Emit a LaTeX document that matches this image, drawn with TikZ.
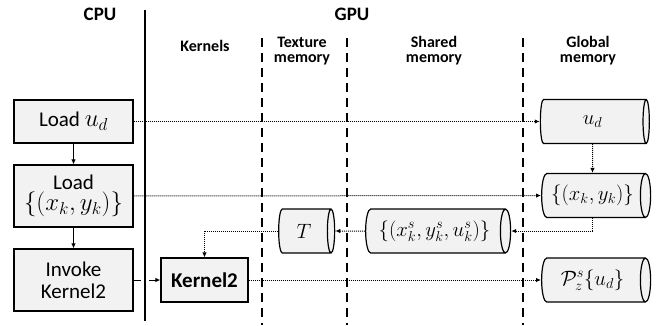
\documentclass[tikz,border=0pt]{standalone}
\usepackage{fontspec}
\setmainfont{Carlito}
\usetikzlibrary{shapes.geometric,arrows.meta,calc}
\definecolor{boxfill}{HTML}{F2F2F2}
\newcommand\mymath[1]{{\fontsize{24}{27}\selectfont$#1$}}
\begin{document}
\begin{tikzpicture}[x=1pt,y=-1pt,
  cpubox/.style={draw=black,line width=1.2pt,fill=boxfill,minimum width=119pt,align=center,inner sep=2pt,font=\fontsize{21}{24}\selectfont},
  kbox/.style={draw=black,line width=1.2pt,fill=boxfill,minimum width=87pt,minimum height=44pt,inner sep=2pt,font=\fontsize{21}{24}\selectfont\bfseries},
  mem/.style={shape=cylinder,draw=black,line width=1.2pt,fill=boxfill,aspect=0.45,inner xsep=0pt,inner ysep=1pt,minimum width=44pt,font=\fontsize{21.5}{25}\selectfont},
  title/.style={font=\fontsize{19}{22}\selectfont\bfseries},
  col/.style={font=\fontsize{16}{18}\selectfont\bfseries,align=center},
  sep/.style={line width=2pt,dash pattern=on 9pt off 6pt},
  dotarr/.style={densely dotted,line width=1pt,-{Latex[length=5pt,width=4.5pt]}},
  solarr/.style={line width=1pt,-{Latex[length=5pt,width=4.5pt]}}]
\useasboundingbox (0,0) rectangle (666,325);
% titles
\node[title] (tcpu) at (100,14) {CPU};
\node[title] (tgpu) at (352,14) {GPU};
\node[col] (tk) at (205,46) {Kernels};
\node[col] (tt) at (302,51) {Texture\\[-3pt]memory};
\node[col] (ts) at (434,51) {Shared\\[-3pt]memory};
\node[col] (tg) at (588,51) {Global\\[-3pt]memory};
% separators
\coordinate (s0t) at (145,10); \coordinate (s0b) at (145,321);
\coordinate (s1t) at (262,38); \coordinate (s1b) at (262,325);
\coordinate (s2t) at (347,38); \coordinate (s2b) at (347,325);
\coordinate (s3t) at (523,38); \coordinate (s3b) at (523,325);
\draw[sep] (s1t) -- (s1b);
\draw[sep] (s2t) -- (s2b);
\draw[sep] (s3t) -- (s3b);
% CPU boxes
\node[cpubox,minimum height=43pt] (b1) at (73.5,121.5) {Load \mymath{u_d}};
\node[cpubox,minimum height=62pt] (b2) at (73.5,196) {Load\\[-3pt]\mymath{\{(x_k,y_k)\}}};
\node[cpubox,minimum height=62pt] (b3) at (73.5,280) {Invoke\\[-2pt]Kernel2};
% kernel
\node[kbox] (k2) at (204.5,280) {Kernel2};
% memories
\node[mem,minimum height=109pt] (ud) at (592.5,121.5) {$u_d$};
\node[mem,minimum height=109pt] (xk) at (592.5,195.5) {$\{(x_k,y_k)\}$};
\node[mem,minimum height=109pt] (pz) at (592.5,280) {$\mathcal{P}^s_z\{u_d\}$};
\node[mem,minimum height=145pt] (sh) at (434.5,231) {$\{(x^s_k,y^s_k,u^s_k)\}$};
\node[mem,minimum height=56pt] (tx) at (304,231) {$T$};
% connectors
\draw[solarr] (b1) -- (b2);
\draw[solarr] (b2) -- (b3);
\draw[solarr] (b3) -- (k2);
\draw[white,line width=8pt] ($(s0t |- k2)+(0,-1)$) -- ($(s0t |- k2)+(0,1)$);
\draw[line width=2pt] (s0t) -- (s0b);
\draw[dotarr] (b1) -- (ud);
\draw[dotarr] (b2) -- (xk);
\draw[dotarr] (ud.south) -- (xk.north);
\draw[dotarr] (xk.south) |- (sh.east);
\draw[dotarr] (sh.west) -- (tx.east);
\draw[dotarr] (tx.west) -| (k2.north);
\draw[dotarr] (k2) -- (pz);
\end{tikzpicture}
\end{document}
